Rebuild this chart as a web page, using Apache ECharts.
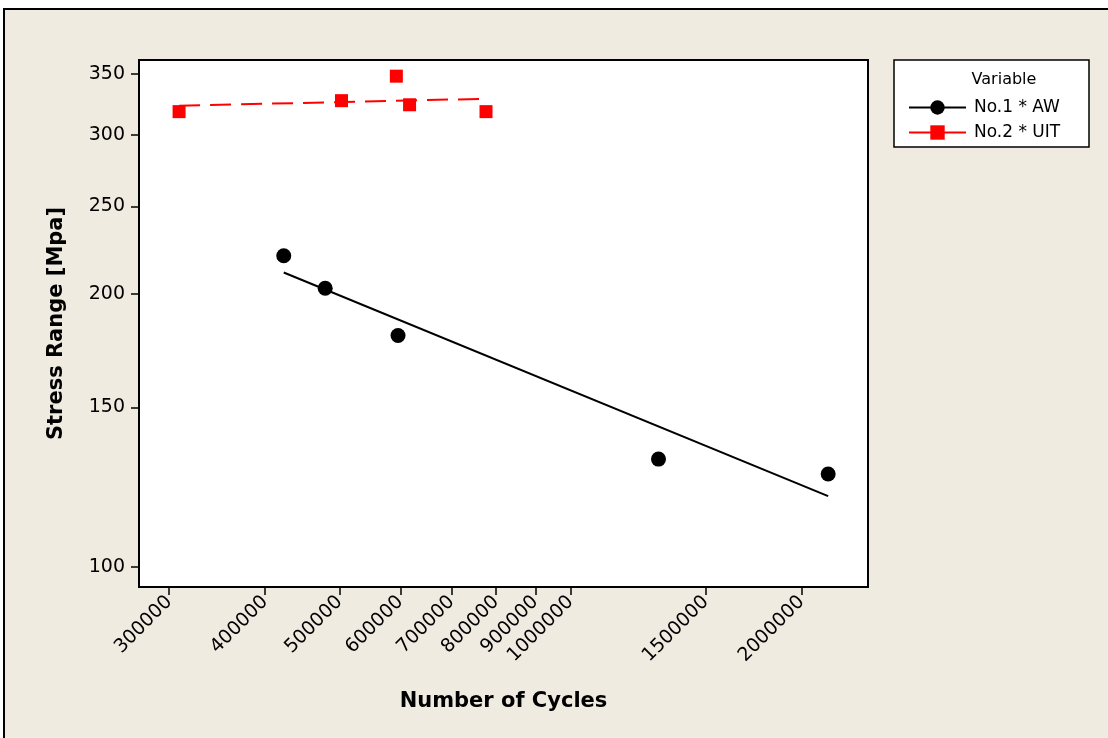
<!DOCTYPE html>
<html>
<head>
<meta charset="utf-8">
<title>Stress Range vs Number of Cycles</title>
<script src="https://cdn.jsdelivr.net/npm/echarts@6/dist/echarts.min.js"></script>
<style>
  html, body { margin: 0; padding: 0; background: #ffffff; }
  #chart { width: 1108px; height: 738px; }
</style>
</head>
<body>
<div id="chart"></div>
<script>
// Fatigue test results: [number of cycles, stress range in MPa]
const awPoints  = [[423000, 220.5], [479000, 203], [596000, 180], [1302000, 131.5], [2166000, 126.6]];
const uitPoints = [[309000, 318], [503000, 327], [593000, 348], [617000, 323.6], [776000, 318]];

// Fitted S-N lines (end points)
const awFit  = [[423000, 211.3], [2166000, 119.7]];
const uitFit = [[309000, 322.8], [776000, 328.6]];

// Axis tick values
const xTicks = [300000, 400000, 500000, 600000, 700000, 800000, 900000, 1000000, 1500000, 2000000];
const yTicks = [100, 150, 200, 250, 300, 350];

const seriesNames = ['No.1 * AW', 'No.2 * UIT'];
const legendTitle = 'Variable';

const FONT = 'DejaVu Sans';
const chart = echarts.init(document.getElementById('chart'), null, { renderer: 'canvas' });

chart.setOption({
  backgroundColor: '#ffffff',
  animation: false,
  graphic: [
    { type: 'rect', z: -10, shape: { x: 4, y: 9, width: 1200, height: 800 },
      style: { fill: '#EFEBE1', stroke: '#000000', lineWidth: 2 } },
    { type: 'rect', z: 1, shape: { x: 894, y: 60, width: 195, height: 87 },
      style: { fill: '#ffffff', stroke: '#000000', lineWidth: 1.5 } },
    { type: 'text', z: 2, style: { x: 1004, y: 80, text: legendTitle, fill: '#000000',
      font: '16px "' + FONT + '"', align: 'center', verticalAlign: 'middle' } }
  ],
  grid: {
    left: 139, top: 60, right: 240, bottom: 151,
    show: true, backgroundColor: '#ffffff', borderColor: '#000000', borderWidth: 2
  },
  legend: {
    orient: 'vertical', left: 903, top: 94, itemWidth: 57, itemHeight: 18, itemGap: 8,
    textStyle: { fontFamily: FONT, fontSize: 17, color: '#000000', padding: [0, 0, 0, 3] },
    data: [
      { name: seriesNames[0], lineStyle: { color: '#000000', width: 2, opacity: 1 } },
      { name: seriesNames[1], lineStyle: { color: '#ff0000', width: 2, opacity: 1, type: 'solid' } }
    ]
  },
  xAxis: {
    type: 'log', logBase: 10, min: 274000, max: 2441000,
    name: 'Number of Cycles', nameLocation: 'middle', nameGap: 104,
    nameTextStyle: { fontFamily: FONT, fontSize: 21, fontWeight: 'bold', color: '#000000' },
    axisLine: { show: false, onZero: false },
    splitLine: { show: false },
    minorTick: { show: false },
    axisTick: { show: true, inside: false, length: 8, customValues: xTicks,
      lineStyle: { color: '#000000', width: 1.5 } },
    axisLabel: { customValues: xTicks, rotate: 45, margin: 12,
      fontFamily: FONT, fontSize: 19, color: '#000000', formatter: v => String(Math.round(v)) }
  },
  yAxis: {
    type: 'log', logBase: 10, min: 95, max: 362.6,
    name: 'Stress Range [Mpa]', nameLocation: 'middle', nameGap: 72, nameRotate: 90,
    nameTextStyle: { fontFamily: FONT, fontSize: 21, fontWeight: 'bold', color: '#000000' },
    axisLine: { show: false, onZero: false },
    splitLine: { show: false },
    minorTick: { show: false },
    axisTick: { show: true, inside: false, length: 8, customValues: yTicks,
      lineStyle: { color: '#000000', width: 1.5 } },
    axisLabel: { customValues: yTicks, margin: 14,
      fontFamily: FONT, fontSize: 19, color: '#000000', formatter: v => String(Math.round(v)) }
  },
  series: [
    { name: seriesNames[0], type: 'line', data: awPoints, symbol: 'circle', symbolSize: 15,
      showSymbol: true, itemStyle: { color: '#000000' }, lineStyle: { width: 0, opacity: 0 }, z: 5 },
    { name: seriesNames[1], type: 'line', data: uitPoints, symbol: 'rect', symbolSize: 13,
      showSymbol: true, itemStyle: { color: '#ff0000' }, lineStyle: { width: 0, opacity: 0 }, z: 5 },
    { name: 'AW fit', type: 'line', data: awFit, symbol: 'none', silent: true,
      lineStyle: { color: '#000000', width: 2 }, z: 3 },
    { name: 'UIT fit', type: 'line', data: uitFit, symbol: 'none', silent: true,
      lineStyle: { color: '#ff0000', width: 2, type: [21, 10] }, z: 3 }
  ]
});
</script>
</body>
</html>
